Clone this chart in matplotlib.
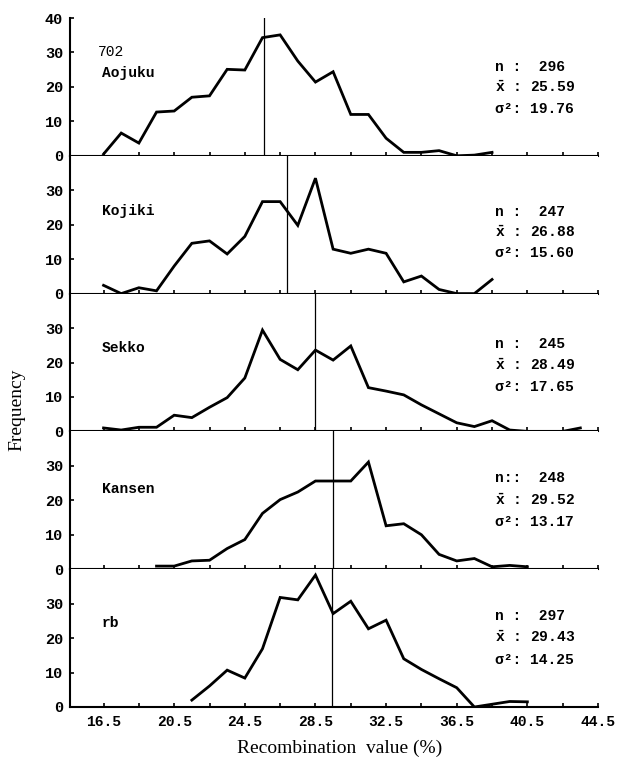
import numpy as np
import matplotlib
matplotlib.use("Agg")
import matplotlib.pyplot as plt

plt.rcParams["mathtext.fontset"] = "custom"
plt.rcParams["mathtext.rm"] = "Liberation Mono:bold"
plt.rcParams["mathtext.it"] = "Liberation Mono:bold"
plt.rcParams["mathtext.bf"] = "Liberation Mono:bold"

# ---- data ----
names = ["Aojuku", "Kojiki", "Sekko", "Kansen", "rb"]
x_aojuku = [16.5 + i for i in range(23)]
y_aojuku = [0.5, 6.6, 3.7, 12.7, 13, 17, 17.4, 25.1, 24.9, 34.3, 35.1, 27.5,
            21.4, 24.4, 12, 12, 5.1, 1, 1, 1.5, 0, 0.2, 1]
x_kojiki = [16.5 + i for i in range(23)]
y_kojiki = [2.4, 0, 1.7, 0.8, 8, 14.6, 15.3, 11.5, 16.6, 26.7, 26.7, 19.8,
            33.5, 12.9, 11.7, 12.9, 11.7, 3.4, 5.1, 1.2, 0, 0, 4.1]
x_sekko = [16.5 + i for i in range(28)]
y_sekko = [1, 0.4, 1.2, 1.2, 4.7, 4, 7, 9.8, 15.5, 29.4, 20.9, 17.9, 23.6,
           20.7, 24.8, 12.7, 11.7, 10.6, 7.7, 5.1, 2.5, 1.4, 3.1, 0.4, 0, 0, 0, 1]
x_kansen = [19.5 + i for i in range(22)]
y_kansen = [0.9, 0.9, 2.4, 2.6, 6, 8.6, 16.2, 20.2, 22.4, 25.6, 25.6, 25.6,
            31.1, 12.6, 13.2, 10, 4.3, 2.4, 3.1, 0.7, 1.1, 0.7]
x_rb = [21.5 + i for i in range(20)]
y_rb = [2, 6.1, 10.7, 8.4, 16.9, 31.8, 31.1, 38.3, 27.1, 30.7, 22.7, 25.2,
        14, 10.9, 8.2, 5.6, 0, 0.8, 1.6, 1.5]

n_vals = ["296", "247", "245", "248", "297"]
n_prefix = ["n :  ", "n :  ", "n :  ", "n::  ", "n :  "]
means = [25.59, 26.88, 28.49, 29.52, 29.43]
variances = ["19.76", "15.60", "17.65", "13.17", "14.25"]
xtick_labels = ["16.5", "20.5", "24.5", "28.5", "32.5", "36.5", "40.5", "44.5"]

xs = [x_aojuku, x_kojiki, x_sekko, x_kansen, x_rb]
ys = [y_aojuku, y_kojiki, y_sekko, y_kansen, y_rb]
stat_y = [(25.7, 20.0, 13.6), (23.8, 17.8, 11.8), (25.3, 19.1, 13.0),
          (26.4, 20.1, 13.7), (26.4, 20.2, 13.7)]
name_y = [23.9, 24.0, 24.3, 23.3, 24.5]

mono = "Liberation Mono"
serif = "Liberation Serif"

fig = plt.figure(figsize=(6.18, 7.61), dpi=100)
W, H = 618, 761
left_px, right_px = 70, 598
top_px, bot_px = 18, 707
ph = (bot_px - top_px) / 5

for i in range(5):
    y0 = top_px + (i + 1) * ph
    ax = fig.add_axes([left_px / W, 1 - y0 / H, (right_px - left_px) / W, ph / H])
    ax.plot(xs[i], ys[i], color="black", lw=2.0, solid_joinstyle="miter")
    ax.axvline(means[i], color="black", lw=0.9)
    ax.set_xlim(14.6, 44.5)
    ax.set_ylim(0, 40)
    for s in ["top", "right"]:
        ax.spines[s].set_visible(False)
    for s in ["left", "bottom"]:
        ax.spines[s].set_linewidth(1.5)
    ax.set_xticks(np.arange(16.5, 44.6, 2.0))
    if i == 0:
        ax.set_yticks([0, 10, 20, 30, 40])
    else:
        ax.set_yticks([0, 10, 20, 30])
    ax.tick_params(axis="both", direction="in", length=3, width=1.2)
    ax.tick_params(axis="y", pad=5)
    for lab in ax.get_yticklabels():
        lab.set_fontfamily(mono)
        lab.set_fontweight("bold")
        lab.set_fontsize(11)
    if i < 4:
        ax.set_xticklabels([])
    else:
        ax.set_xticks(np.arange(16.5, 44.6, 4.0), labels=xtick_labels, minor=False)
        ax.set_xticks(np.arange(18.5, 44.6, 4.0), minor=True)
        ax.tick_params(axis="x", which="both", direction="in", length=3, width=1.2, pad=6)
        for lab in ax.get_xticklabels():
            lab.set_fontfamily(mono)
            lab.set_fontweight("bold")
            lab.set_fontsize(10.5)
    # stats
    sy = stat_y[i]
    kw = dict(family=mono, weight="bold", fontsize=10.5, va="center", ha="left")
    ax.text(38.65, sy[0], n_prefix[i] + n_vals[i], **kw)
    ax.text(38.65, sy[1], r"$\bar{\mathrm{x}}$ : %.2f" % means[i], **kw)
    ax.text(38.65, sy[2], "\u03c3\u00b2: " + variances[i], **kw)
    ax.text(16.4, name_y[i], names[i], **kw)
    if i == 0:
        ax.text(16.2, 30.0, "702", family=mono, fontsize=10.5, va="center", ha="left")

fig.text(17 / W, 1 - 410 / H, "Frequency", family=serif, fontsize=14,
         rotation=90, ha="center", va="center")
fig.text(340 / W, 1 - 748 / H, "Recombination  value (%)", family=serif,
         fontsize=14, ha="center", va="center")

fig.savefig("out.png", dpi=100)
